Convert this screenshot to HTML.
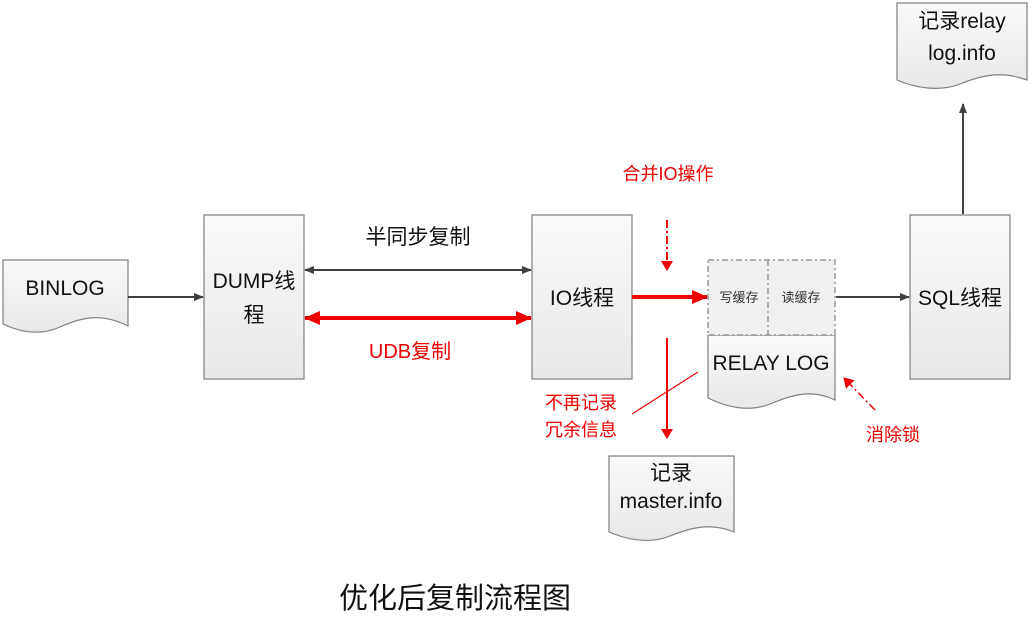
<!DOCTYPE html>
<html><head><meta charset="utf-8"><style>
html,body{margin:0;padding:0;background:#fff}
svg text{font-family:"Liberation Sans","Noto Sans CJK SC",sans-serif}
</style></head><body>
<svg width="1032" height="624" viewBox="0 0 1032 624" xmlns="http://www.w3.org/2000/svg">
<defs>
<linearGradient id="g" x1="0" y1="0" x2="0" y2="1"><stop offset="0" stop-color="#fafafa"/><stop offset="1" stop-color="#e8e8e8"/></linearGradient>
<marker id="ag" markerWidth="10" markerHeight="10" refX="9" refY="5" orient="auto-start-reverse" markerUnits="userSpaceOnUse"><path d="M0,1 L10,5 L0,9 Z" fill="#404040"/></marker>
<marker id="ar" markerWidth="16" markerHeight="14" refX="15" refY="7" orient="auto-start-reverse" markerUnits="userSpaceOnUse"><path d="M0,0 L16,7 L0,14 Z" fill="#ee0000"/></marker>
<marker id="ar2" markerWidth="10" markerHeight="12" refX="9" refY="6" orient="auto-start-reverse" markerUnits="userSpaceOnUse"><path d="M0,0 L10,6 L0,12 Z" fill="#ee0000"/></marker>
</defs>
<g stroke="#808080" stroke-width="1.2" fill="url(#g)">
<path d="M3,260 H128 V326 C100,312 80,318 60,327 C40,336 20,332 3,324 Z"/>
<rect x="204" y="215" width="100" height="164"/>
<rect x="532" y="215" width="100" height="164"/>
<rect x="910" y="215" width="100" height="164"/>
<path d="M897,3 H1027 V80 C1000,70 980,76 960,84 C940,92 915,88 897,80 Z"/>
<path d="M609,456 H734 V532 C710,522 690,528 670,536 C650,544 628,540 609,532 Z"/>
<path d="M708,335 H835 V400 C810,388 790,396 770,404 C750,412 728,408 708,398 Z"/>
</g>
<g stroke="#808080" stroke-width="1.2" stroke-dasharray="6,3,2,3" fill="#f0f0f0">
<rect x="708" y="260" width="127" height="75"/>
<line x1="768" y1="260" x2="768" y2="335"/>
</g>
<g stroke="#404040" stroke-width="2" fill="none">
<line x1="128" y1="297" x2="203" y2="297" marker-end="url(#ag)"/>
<line x1="305" y1="270" x2="531" y2="270" marker-start="url(#ag)" marker-end="url(#ag)"/>
<line x1="836" y1="297" x2="909" y2="297" marker-end="url(#ag)"/>
<line x1="963" y1="214" x2="963" y2="104" marker-end="url(#ag)"/>
</g>
<g stroke="#ee0000" fill="none">
<line x1="305" y1="318" x2="531" y2="318" stroke-width="4" marker-start="url(#ar)" marker-end="url(#ar)"/>
<line x1="632" y1="297" x2="707" y2="297" stroke-width="4" marker-end="url(#ar)"/>
<line x1="667" y1="220" x2="667" y2="270" stroke-width="2" stroke-dasharray="8,3,2,3" marker-end="url(#ar2)"/>
<line x1="667" y1="338" x2="667" y2="438" stroke-width="2" marker-end="url(#ar2)"/>
<line x1="632" y1="414" x2="698" y2="372" stroke-width="1.2"/>
<line x1="875" y1="410" x2="844" y2="378" stroke-width="1.5" stroke-dasharray="8,3,2,3" marker-end="url(#ar2)"/>
</g>
<g font-size="21" fill="#111" text-anchor="middle">
<text x="65" y="295">BINLOG</text>
<text x="254" y="288">DUMP线</text>
<text x="254" y="322">程</text>
<text x="582" y="305">IO线程</text>
<text x="960" y="305">SQL线程</text>
<text x="771" y="370">RELAY LOG</text>
<text x="962" y="28">记录relay</text>
<text x="962" y="60">log.info</text>
<text x="671" y="480">记录</text>
<text x="671" y="508">master.info</text>
<text x="418" y="244">半同步复制</text>
</g>
<g font-size="13" fill="#333" text-anchor="middle">
<text x="739" y="302">写缓存</text>
<text x="801" y="302">读缓存</text>
</g>
<g fill="#ee0000" text-anchor="middle">
<text x="410" y="358" font-size="20">UDB复制</text>
<text x="668" y="180" font-size="18">合并IO操作</text>
<text x="581" y="409" font-size="18">不再记录</text>
<text x="581" y="436" font-size="18">冗余信息</text>
<text x="893" y="441" font-size="18">消除锁</text>
</g>
<text x="455" y="608" font-size="29" fill="#111" text-anchor="middle">优化后复制流程图</text>
</svg>
</body></html>
